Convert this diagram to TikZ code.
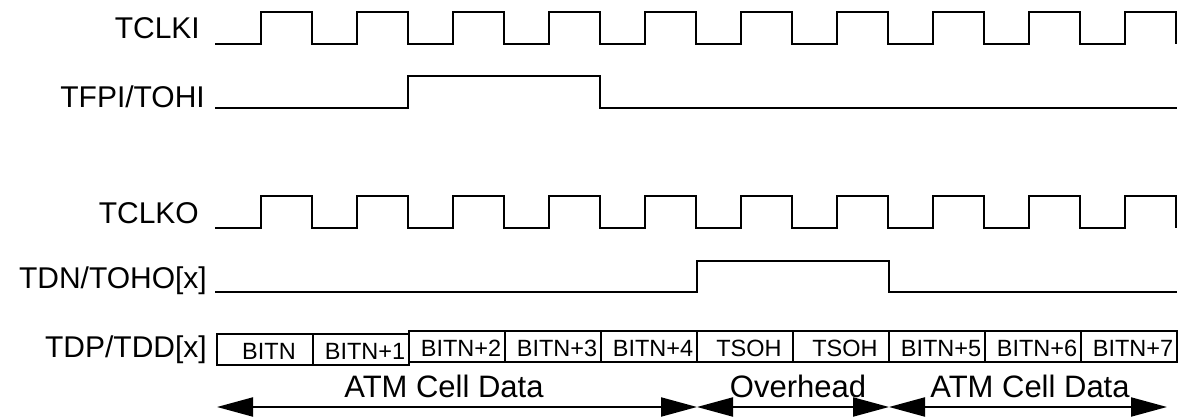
\documentclass[tikz,border=0pt]{standalone}
\usepackage{fontspec}
\setmainfont{Liberation Sans}
\usetikzlibrary{arrows.meta}

\tikzset{
	wave/.style={line width=2.3pt},
	siglabel/.style={inner sep=0pt,anchor=base east,font=\fontsize{30}{36}\selectfont},
	cell/.style={draw,line width=2pt,inner sep=0pt,minimum width=96pt,minimum height=31pt,
		text height=20pt,text depth=0pt,font=\fontsize{23.5}{28}\selectfont},
	spanlabel/.style={inner sep=0pt,anchor=base,font=\fontsize{31}{37}\selectfont},
	span/.style={line width=2pt,{Triangle[length=36pt,width=19pt]}-{Triangle[length=36pt,width=19pt]}}
}

\begin{document}
\begin{tikzpicture}[x=1pt,y=-1pt]
	\useasboundingbox (0,0) rectangle (1180,417);
	\node[siglabel] (tclki) at (200,39) {TCLKI};
	\node[siglabel] (tfpi) at (205,108) {TFPI/TOHI};
	\node[siglabel] (tclko) at (199,223) {TCLKO};
	\node[siglabel] (tdn) at (207,288) {TDN/TOHO[x]};
	\node[siglabel] (tdp) at (207,357) {TDP/TDD[x]};
	\draw[wave] (215,44) \foreach \k in {0,...,9} { -- ({261+96*\k},44) -- ({261+96*\k},12) -- ({312+96*\k},12) -- ({312+96*\k},44) };
	\draw[wave] (215,228) \foreach \k in {0,...,9} { -- ({261+96*\k},228) -- ({261+96*\k},196) -- ({312+96*\k},196) -- ({312+96*\k},228) };
	\draw[wave] (215,108) -- (408,108) -- (408,76) -- (600,76) -- (600,108) -- (1177,108);
	\draw[wave] (215,292) -- (697,292) -- (697,261) -- (889,261) -- (889,292) -- (1177,292);
	\foreach \t/\y [count=\i] in {BITN/349,BITN+1/349,BITN+2/346.5,BITN+3/346.5,BITN+4/346.5,TSOH/346.5,TSOH/346.5,BITN+5/346.5,BITN+6/346.5,BITN+7/346.5}
		\node[cell] (c\i) at ({265+96*(\i-1)},\y) {\hspace*{8pt}\t};
	\coordinate (d0) at (217,407);
	\coordinate (d1) at (697,407);
	\coordinate (d2) at (889,407);
	\coordinate (d3) at (1167,407);
	\draw[span] (d0) -- (d1);
	\draw[span] (d1) -- (d2);
	\draw[span] (d2) -- (d3);
	\node[spanlabel] (atm1) at (444,397) {ATM Cell Data};
	\node[spanlabel] (ovh) at (798,397) {Overhead};
	\node[spanlabel] (atm2) at (1030,397) {ATM Cell Data};
\end{tikzpicture}
\end{document}
